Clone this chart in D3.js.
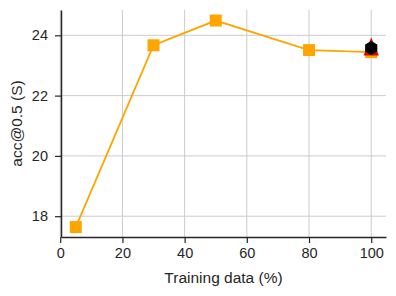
<!DOCTYPE html>
<html>
<head>
<script src="https://d3js.org/d3.v7.min.js"></script>
<style>
  body { margin: 0; background: #fff; }
  text { font-family: "Liberation Sans", Arial, sans-serif; fill: #262626; }
</style>
</head>
<body>
<div id="chart"></div>
<script>
const trainPct = [5, 30, 50, 80, 100];
const accValues = [17.64, 23.67, 24.49, 23.51, 23.44];
const refX = [100];
const refTriangle = [23.63];
const refHexagon = [23.58];
const xTicks = [0, 20, 40, 60, 80, 100];
const yTicks = [18, 20, 22, 24];

const W = 396, H = 296;
const margin = {left: 61, right: 10, top: 10, bottom: 59};

const svg = d3.select("#chart").append("svg")
  .attr("width", W).attr("height", H);

const x = d3.scaleLinear().domain([0.25, 104.75]).range([margin.left, W - margin.right]);
const y = d3.scaleLinear().domain([17.31, 24.84]).range([H - margin.bottom, margin.top]);

// grid
svg.append("g").selectAll("line").data(xTicks).enter().append("line")
  .attr("x1", d => x(d)).attr("x2", d => x(d))
  .attr("y1", margin.top).attr("y2", H - margin.bottom)
  .attr("stroke", "#cccccc").attr("stroke-width", 1);
svg.append("g").selectAll("line").data(yTicks).enter().append("line")
  .attr("x1", margin.left).attr("x2", W - margin.right)
  .attr("y1", d => y(d)).attr("y2", d => y(d))
  .attr("stroke", "#cccccc").attr("stroke-width", 1);

// axes
const xAxis = svg.append("g")
  .attr("transform", `translate(0,${H - margin.bottom})`)
  .call(d3.axisBottom(x).tickValues(xTicks).tickSize(6).tickPadding(5).tickSizeOuter(0));
const yAxis = svg.append("g")
  .attr("transform", `translate(${margin.left},0)`)
  .call(d3.axisLeft(y).tickValues(yTicks).tickSize(6).tickPadding(7).tickSizeOuter(0));
[xAxis, yAxis].forEach(a => {
  a.select(".domain").attr("stroke", "#262626").attr("stroke-width", 1.5);
  a.selectAll(".tick line").attr("stroke", "#262626").attr("stroke-width", 1.2);
  a.selectAll(".tick text").attr("font-size", 14.5).attr("fill", "#262626")
    .style("font-family", "'Liberation Sans', Arial, sans-serif");
});

// line
const line = d3.line().x((d, i) => x(trainPct[i])).y(d => y(d));
svg.append("path").datum(accValues)
  .attr("d", line).attr("fill", "none")
  .attr("stroke", "#FFA500").attr("stroke-width", 1.8);

svg.append("g").selectAll("rect").data(accValues).enter().append("rect")
  .attr("x", (d, i) => x(trainPct[i]) - 6).attr("y", d => y(d) - 6)
  .attr("width", 12).attr("height", 12).attr("fill", "#FFA500");

// reference markers
const t = 9;
svg.append("g").selectAll("path").data(refTriangle).enter().append("path")
  .attr("transform", (d, i) => `translate(${x(refX[i])},${y(d)})`)
  .attr("d", `M0,${-t}L${t * 0.85},${t}L${-t * 0.85},${t}Z`)
  .attr("fill", "#e00000");
const hex = d3.range(6).map(k => {
  const a = Math.PI / 6 + k * Math.PI / 3;
  return [7 * Math.cos(a), 7 * Math.sin(a)];
});
svg.append("g").selectAll("path").data(refHexagon).enter().append("path")
  .attr("transform", (d, i) => `translate(${x(refX[i])},${y(d)})`)
  .attr("d", "M" + hex.map(p => p.join(",")).join("L") + "Z")
  .attr("fill", "#000");

// labels
svg.append("text")
  .attr("x", (margin.left + W - margin.right) / 2).attr("y", 283)
  .attr("text-anchor", "middle").attr("font-size", 15.5)
  .text("Training data (%)");
svg.append("text")
  .attr("transform", `translate(22,${(margin.top + H - margin.bottom) / 2}) rotate(-90)`)
  .attr("text-anchor", "middle").attr("font-size", 15.5)
  .text("acc@0.5 (S)");
</script>
</body>
</html>
